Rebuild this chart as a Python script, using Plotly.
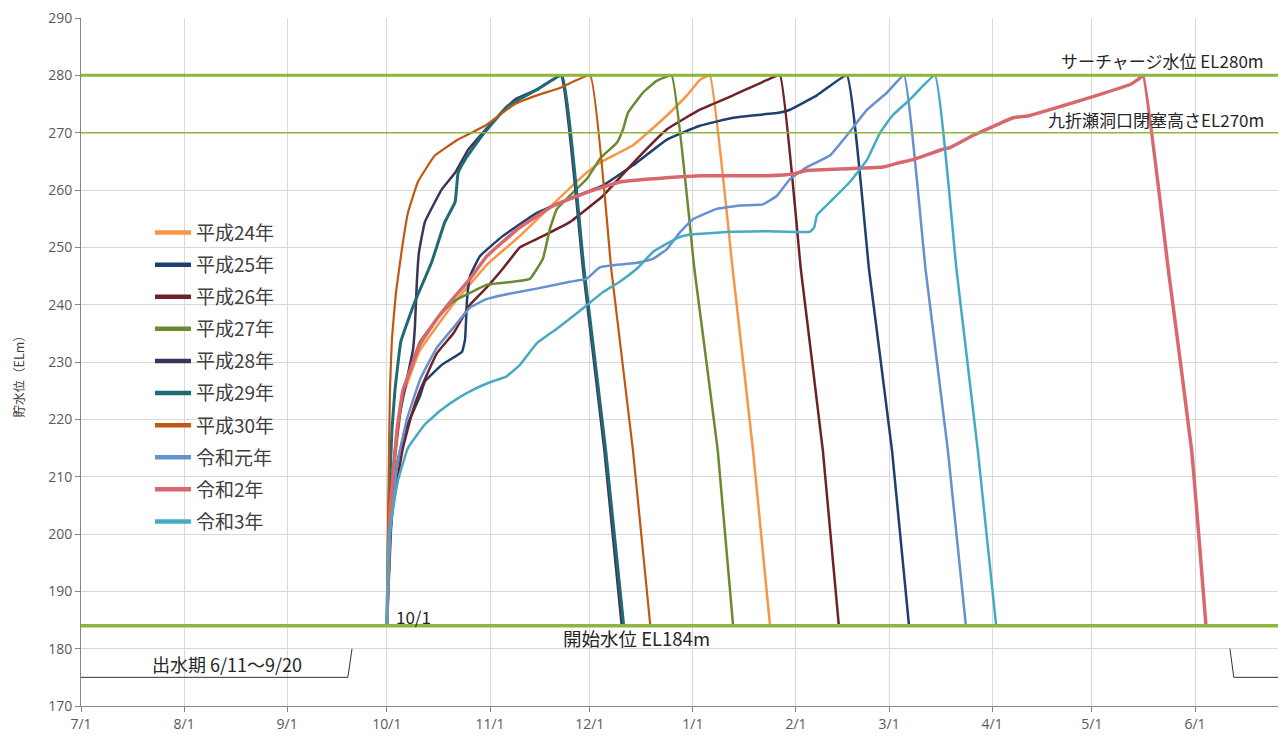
import pandas as pd
import plotly.graph_objects as go

# ---------------- data (days counted from 10/1, level in ELm) ----------------
START_DATE = "2018-10-01"

H24_DAYS = [0, 0.9, 3.0, 4.8, 9.9, 19.8, 30.1, 40, 49, 59, 64.1, 74, 84.2, 90.2, 94.1, 97.1, 104, 110.1, 115.2]
H24_LEVEL = [184, 203, 216, 224, 232, 240, 247, 252, 257, 262.5, 264.8, 267.8, 273, 276.5, 279.2, 280, 246, 214.5, 184]

H25_DAYS = [0, 1.5, 3.0, 5.4, 9.9, 11.4, 16.5, 22.6, 23.5, 24.1, 25.0, 28.0, 34.9, 45.1, 55.0, 65.0, 74.0, 84.2, 94.1, 104.1, 118.2, 121.2, 129.3, 138.3, 145, 151.9, 157.0]
H25_LEVEL = [184, 204, 212, 218, 224, 226.6, 229.5, 231.8, 234, 241, 245, 248.5, 252, 256, 258.5, 260.8, 264.3, 268.8, 271.2, 272.6, 273.5, 274, 276.5, 280, 246, 214.5, 184]

H26_DAYS = [0, 1.0, 2.4, 4.8, 7.5, 9.9, 15, 20, 25, 30, 34.9, 40, 47, 55, 65, 74.5, 84.2, 94.1, 104.1, 114.3, 118.2, 124.5, 131.1, 135.9]
H26_LEVEL = [184, 200, 207, 215, 221, 225, 231.5, 235, 240, 243, 246.3, 250, 252, 254.4, 259, 265, 270.6, 274, 276.5, 279.2, 280, 246, 214.5, 184]

H27_DAYS = [0, 0.9, 3.0, 5.4, 9.9, 15, 19.8, 26.5, 30.1, 37.9, 43, 46.9, 49, 51.1, 55, 60.2, 64.1, 69.2, 71, 72.5, 77, 81, 85.6, 92.5, 99.5, 104.1]
H27_LEVEL = [184, 205, 218, 226, 233.5, 237.5, 240.5, 242.5, 243.5, 244, 244.5, 248, 253.2, 256.7, 259, 262, 265.5, 268.3, 270.6, 273.5, 277, 279, 280, 246, 214.5, 184]

H28_DAYS = [0, 0.6, 1.5, 3.9, 6.9, 7.8, 8.4, 9.0, 9.6, 11.4, 16.5, 20.5, 24.4, 31.6, 38.5, 45.1, 52.3, 59, 65.4, 70.6]
H28_LEVEL = [184, 200, 209, 221, 229.5, 232, 236, 244, 249, 254.4, 260.1, 263, 267, 271.8, 275.8, 277.5, 280, 246, 214.5, 184]

H29_DAYS = [0, 0.6, 1.5, 2.4, 4.2, 8.4, 13.5, 17.4, 20.5, 21.4, 23.5, 28.6, 36.4, 45.1, 52.6, 59.3, 65.8, 71.2]
H29_LEVEL = [184, 205, 218, 225, 233.6, 240.5, 247.5, 254.4, 257.9, 263, 265.3, 269.5, 274.7, 277.5, 280, 246, 214.5, 184]

H30_DAYS = [0, 0.4, 0.9, 1.5, 2.7, 4.5, 6.3, 9.3, 14.4, 21.4, 29.5, 38.5, 45.1, 52.0, 61.1, 67.5, 74.0, 79.2]
H30_LEVEL = [184, 205, 225, 234, 242, 249.7, 256, 261.4, 266, 268.8, 271.2, 275, 276.5, 277.8, 280, 246, 214.5, 184]

R1_DAYS = [0, 1.0, 3.0, 6, 10, 15, 20, 25, 30.1, 35, 45, 55, 60, 64, 70, 75.2, 80, 84.2, 88.1, 92, 99.2, 106.2, 113.1, 117.3, 121.2, 126.3, 133.2, 138.3, 144.4, 150.4, 155.5, 162, 168.7, 174.1]
R1_LEVEL = [184, 200, 212, 220, 227, 232.5, 236, 239.5, 241, 241.7, 242.8, 244, 244.5, 246.5, 247, 247.3, 248, 249.7, 252.6, 254.9, 256.7, 257.3, 257.5, 259, 261.9, 264, 266, 269.5, 274, 277, 280, 246, 214.5, 184]

R2_DAYS = [0, 0.9, 3.0, 4.8, 9.9, 15, 19.8, 25, 30.1, 40, 49.9, 60.2, 70.1, 79, 94.1, 114.3, 122.1, 126.3, 134.1, 149.2, 154.3, 158.2, 167.2, 169.3, 176.2, 183.5, 188.3, 193.4, 203.3, 213.5, 223.5, 225.9, 227.4, 235, 242, 246.3]
R2_LEVEL = [184, 203.5, 218, 225, 233, 237.5, 241, 244.5, 248.5, 253.5, 257.2, 259.6, 261.4, 261.9, 262.5, 262.5, 262.8, 263.4, 263.6, 264, 264.8, 265.3, 267.1, 267.4, 269.5, 271.4, 272.6, 273, 274.7, 276.5, 278.4, 279.3, 280, 246, 214.5, 184]

R3_DAYS = [0, 0.3, 0.9, 3.3, 6.3, 11.4, 16, 21.4, 26, 31.6, 36, 40, 45.1, 51.1, 57.1, 65, 70, 75.2, 80, 85, 88, 92, 104, 115, 127.2, 128.5, 129.3, 134.1, 139.2, 144.4, 148.3, 152, 157.3, 164.8, 171.3, 177.7, 183.2]
R3_LEVEL = [184, 195, 201, 209.3, 215, 219.1, 221.5, 223.7, 225.2, 226.6, 227.5, 229.5, 233.3, 235.8, 238.5, 242.2, 244, 246.3, 249.2, 250.9, 251.8, 252.3, 252.7, 252.8, 252.7, 253.5, 255.6, 258.4, 261.4, 265.3, 270, 273, 275.8, 280, 246, 214.5, 184]

SERIES_NAMES = ["平成24年", "平成25年", "平成26年", "平成27年", "平成28年",
                "平成29年", "平成30年", "令和元年", "令和2年", "令和3年"]
SERIES_DAYS = [H24_DAYS, H25_DAYS, H26_DAYS, H27_DAYS, H28_DAYS,
               H29_DAYS, H30_DAYS, R1_DAYS, R2_DAYS, R3_DAYS]
SERIES_LEVELS = [H24_LEVEL, H25_LEVEL, H26_LEVEL, H27_LEVEL, H28_LEVEL,
                 H29_LEVEL, H30_LEVEL, R1_LEVEL, R2_LEVEL, R3_LEVEL]
SERIES_COLORS = ["#F79646", "#1F3F6E", "#6E2226", "#6A8A32", "#3E3358",
                 "#1F6B74", "#C0580F", "#6691CF", "#D9686E", "#46AAC4"]
SERIES_WIDTHS = [2.5, 2.5, 2.5, 2.5, 2.5, 3, 2.2, 2.5, 3.5, 2.5]

# reference levels
SURCHARGE_LEVEL = 280
CLOSURE_LEVEL = 270
START_LEVEL = 184

# flood season bracket (出水期 6/11～9/20)
FLOOD_LEFT_X = ["2018-07-01", "2018-09-19 06:00", "2018-09-20 12:00"]
FLOOD_LEFT_Y = [175, 175, 180]
FLOOD_RIGHT_X = ["2019-06-11 12:00", "2019-06-12 16:00", "2019-07-01"]
FLOOD_RIGHT_Y = [180, 175, 175]

# axis ticks
MONTH_TICKS = ["2018-07-01", "2018-08-01", "2018-09-01", "2018-10-01", "2018-11-01",
               "2018-12-01", "2019-01-01", "2019-02-01", "2019-03-01", "2019-04-01",
               "2019-05-01", "2019-06-01"]
MONTH_LABELS = ["7/1", "8/1", "9/1", "10/1", "11/1", "12/1", "1/1", "2/1",
                "3/1", "4/1", "5/1", "6/1"]
X_RANGE = ["2018-07-01", "2019-06-25 23:00"]
Y_RANGE = [170, 290]

JP = "Noto Sans CJK JP"
NUM = "Open Sans"
LINE_GREEN = "#8DB63E"

# figure geometry (page body has an 8px margin)
FIG_W, FIG_H = 1270, 727
M_L, M_R, M_T, M_B = 73, 0, 10, 29
PLOT_W = FIG_W - M_L - M_R
PLOT_H = FIG_H - M_T - M_B


def px_to_paper_x(px):
    return (px - 8 - M_L) / PLOT_W


def px_to_paper_y(py):
    return 1 - (py - 8 - M_T) / PLOT_H


fig = go.Figure()
base = pd.Timestamp(START_DATE)
for name, days, levels, color, w in zip(SERIES_NAMES, SERIES_DAYS, SERIES_LEVELS,
                                         SERIES_COLORS, SERIES_WIDTHS):
    xs = base + pd.to_timedelta(days, unit="D")
    fig.add_trace(go.Scatter(
        x=xs, y=levels, mode="lines", name=name, legendgroup=name, showlegend=False,
        line=dict(color=color, width=w, shape="spline", smoothing=0.3),
    ))
# legend entries (thicker sample lines, as in the original legend)
for name, color in zip(SERIES_NAMES, SERIES_COLORS):
    fig.add_trace(go.Scatter(x=[None], y=[None], mode="lines", name=name,
                             legendgroup=name, showlegend=True,
                             line=dict(color=color, width=4.5)))

for xs, ys in [(FLOOD_LEFT_X, FLOOD_LEFT_Y), (FLOOD_RIGHT_X, FLOOD_RIGHT_Y)]:
    fig.add_trace(go.Scatter(x=xs, y=ys, mode="lines", showlegend=False,
                             line=dict(color="#333333", width=1), hoverinfo="skip"))

for lvl, w in [(SURCHARGE_LEVEL, 3), (CLOSURE_LEVEL, 1.5), (START_LEVEL, 3.5)]:
    fig.add_shape(type="line", xref="paper", x0=0, x1=1, yref="y", y0=lvl, y1=lvl,
                  line=dict(color=LINE_GREEN, width=w), layer="above")

ann_font = dict(family=JP, size=17, color="#262626")
right_x = px_to_paper_x(1266)
fig.add_annotation(x=right_x, xref="paper", y=SURCHARGE_LEVEL, yref="y",
                   text="サーチャージ水位 EL280m", showarrow=False,
                   xanchor="right", yanchor="bottom", yshift=0, font=ann_font)
fig.add_annotation(x=right_x, xref="paper", y=CLOSURE_LEVEL, yref="y",
                   text="九折瀬洞口閉塞高さEL270m", showarrow=False,
                   xanchor="right", yanchor="bottom", yshift=-1, font=ann_font)
fig.add_annotation(x="2018-12-15", y=START_LEVEL, text="開始水位 EL184m", showarrow=False,
                   xanchor="center", yanchor="top", yshift=3, font=dict(ann_font, size=18.5))
fig.add_annotation(x=START_DATE, y=START_LEVEL, text="10/1", showarrow=False,
                   xanchor="left", yanchor="bottom", xshift=7, yshift=-5,
                   font=dict(ann_font, size=17))
fig.add_annotation(x="2018-08-14", y=177.3, text="出水期 6/11～9/20", showarrow=False,
                   xanchor="center", yanchor="middle", font=dict(ann_font, size=18))
# y-axis title
fig.add_annotation(x=px_to_paper_x(18), xref="paper", y=228, yref="y",
                   text="貯水位（ELm）", textangle=-90, showarrow=False,
                   xanchor="center", yanchor="middle",
                   font=dict(family=JP, size=12.5, color="#404040"))

fig.update_layout(
    width=FIG_W, height=FIG_H,
    margin=dict(l=M_L, r=M_R, t=M_T, b=M_B),
    paper_bgcolor="white", plot_bgcolor="white",
    showlegend=True,
    legend=dict(x=px_to_paper_x(150), y=px_to_paper_y(232 - 18.3),
                xanchor="left", yanchor="top",
                bgcolor="rgba(0,0,0,0)", font=dict(family=JP, size=19, color="#404040"),
                tracegroupgap=4.4, itemwidth=36),
    font=dict(family=NUM, size=14, color="#595959"),
)
fig.update_xaxes(
    type="date", range=X_RANGE, tickvals=MONTH_TICKS, ticktext=MONTH_LABELS,
    showgrid=True, gridcolor="#D9D9D9", gridwidth=1,
    showline=True, linecolor="#868686", linewidth=1,
    ticks="outside", ticklen=5, tickcolor="#868686",
    tickfont=dict(family=NUM, size=14, color="#595959"), zeroline=False,
)
fig.update_yaxes(
    range=Y_RANGE, dtick=10, tick0=170, automargin=False, ticklabeloverflow="allow",
    showgrid=True, gridcolor="#D9D9D9", gridwidth=1,
    showline=True, linecolor="#868686", linewidth=1,
    ticks="outside", ticklen=5, tickcolor="#868686",
    tickfont=dict(family=NUM, size=14, color="#595959"), zeroline=False,
)

fig.write_html("out.html")
